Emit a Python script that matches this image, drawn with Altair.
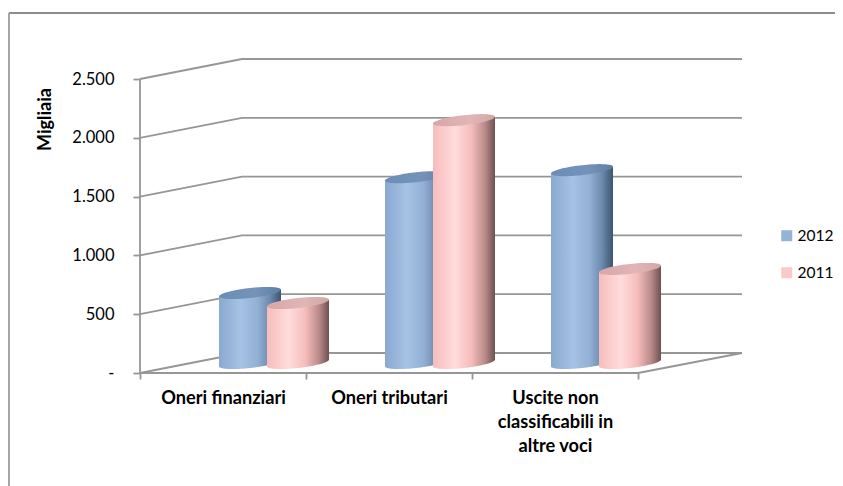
import math
import altair as alt
import pandas as pd

CATEGORIES = ["Oneri finanziari", "Oneri tributari", "Uscite non\nclassificabili in\naltre voci"]
SERIES = ["2012", "2011"]
VALUES_2012 = [595, 1580, 1640]
VALUES_2011 = [510, 2065, 800]
Y_TICKS = [0, 500, 1000, 1500, 2000, 2500]

FONT = "Lato"
LINE = "#969696"

# scale geometry: 166 px per category, 294 px per 2500
PX_X = 166.0
PX_Y = 294.0 / 2500.0
X0, Y0 = 140.0, 373.0
LEFT, RIGHT, TOP, BOTTOM = 9.0, 835.0, 13.0, 486.0
x_dom = [(LEFT - X0) / PX_X, (RIGHT - X0) / PX_X]
y_dom = [(BOTTOM - Y0) * -1 / PX_Y, (Y0 - TOP) / PX_Y]
DX = 102.0 / PX_X   # depth offset of the back wall
DY = 20.0 / PX_Y
END = 3 + DX + 2 / PX_X
n = len(CATEGORIES)

x_scale = alt.Scale(domain=x_dom, nice=False, zero=False)
y_scale = alt.Scale(domain=y_dom, nice=False, zero=False)

# wall and floor lines
grid = []
for v in Y_TICKS:
    pts = [(0, v), (DX, v + DY), (END, v + DY)]
    for i, (a, b) in enumerate(pts):
        grid.append({"g": f"w{v}", "i": i, "x": a, "y": b})
for i, (a, b) in enumerate([(0, 0), (n, 0), (END, DY)]):
    grid.append({"g": "floor", "i": i, "x": a, "y": b})
for i, (a, b) in enumerate([(0, 0), (0, Y_TICKS[-1])]):
    grid.append({"g": "axis", "i": i, "x": a, "y": b})
grid_df = pd.DataFrame(grid)

SHIFT = 24.0 / PX_X
HALF = 31.0 / PX_X
SK = 3.4 / PX_Y   # tilt of the ellipse
BH = 5.0 / PX_Y   # half height of the ellipse
STEPS = 40


def shapes(values, sign):
    body, cap = [], []
    for c, v in enumerate(values):
        cx = c + 0.5 + DX / 2 + sign * SHIFT
        base = DY / 2
        top = v + DY / 2
        for s in range(STEPS + 1):
            t = math.pi * s / STEPS
            co = math.cos(t)
            si = math.sin(t)
            x = cx + HALF * co
            tilt = SK * co
            body.append({"c": c, "x": x, "y": top + tilt, "y2": base + tilt - BH * si})
            cap.append({"c": c, "x": x, "y": top + tilt + BH * si, "y2": top + tilt - BH * si})
    return pd.DataFrame(body), pd.DataFrame(cap)


def grad(stops):
    return alt.Gradient(
        gradient="linear", x1=0, x2=1, y1=0, y2=0,
        stops=[alt.GradientStop(offset=o, color=col) for o, col in stops],
    )


BLUE_BODY = grad([(0, "#8aa9d0"), (0.35, "#a6c2e4"), (0.62, "#93b0d5"), (0.82, "#6d8bae"), (1, "#3c5570")])
BLUE_CAP = grad([(0, "#6a8db8"), (0.6, "#7593b8"), (1, "#5e7ea3")])
PINK_BODY = grad([(0, "#f7bcbc"), (0.35, "#ffdcdc"), (0.62, "#f6bcbc"), (0.84, "#b98a8a"), (1, "#6e5050")])
PINK_CAP = grad([(0, "#d9a6a8"), (0.6, "#e0b6b6"), (1, "#d0a8a2")])

ex = alt.X("x:Q", scale=x_scale, title=None)
ey = alt.Y("y:Q", scale=y_scale, title="Migliaia")

label_expr = (
    "datum.value==0.5?'Oneri finanziari':datum.value==1.5?'Oneri tributari':"
    "datum.value==2.5?['Uscite non','classificabili in','altre voci']:''"
)

lines = alt.Chart(grid_df).mark_line(color=LINE, strokeWidth=1.8).encode(
    x=alt.X("x:Q", scale=x_scale, title=None, axis=alt.Axis(
        values=[0, 0.5, 1, 1.5, 2, 2.5, 3], domain=False, grid=False,
        offset=-(BOTTOM - Y0), tickColor=LINE, tickWidth=1.8, tickSize=6,
        tickOpacity=alt.expr("datum.value==floor(datum.value)?1:0"),
        labelExpr=label_expr, labelFont=FONT, labelFontWeight="bold", labelFontSize=18.2,
        labelColor="#000000", labelOverlap=False, labelBound=False, labelFlush=False,
        labelPadding=10, labelLineHeight=24, labelBaseline="top",
    )),
    y=alt.Y("y:Q", scale=y_scale, title="Migliaia", axis=alt.Axis(
        values=Y_TICKS, domain=False, grid=False, offset=-(X0 - LEFT),
        tickColor=LINE, tickWidth=1.8, tickSize=7, labelFont=FONT, labelFontSize=16.5,
        labelColor="#000000", labelPadding=19, labelOverlap=False, labelBound=False,
        labelExpr="datum.value==0?'-':replace(format(datum.value,','),',','.')",
        titleFont=FONT, titleFontWeight="bold", titleFontSize=18, titleColor="#000000",
        titleX=54 - X0, titleY=119 - TOP, titleAngle=270, titleAlign="center",
    )),
    detail="g:N",
    order="i:Q",
)

frame_top = alt.Chart(pd.DataFrame({"a": [0]})).mark_rule(color="#8c8c8c", strokeWidth=1.8).encode(
    x=alt.value(0), x2=alt.value(RIGHT - LEFT), y=alt.value(0)
)
frame_left = alt.Chart(pd.DataFrame({"a": [0]})).mark_rule(color="#9c9c9c", strokeWidth=1.8).encode(
    y=alt.value(0), y2=alt.value(BOTTOM - TOP), x=alt.value(0)
)

layers = [frame_top, frame_left, lines]
for vals, sign, body_col, cap_col in [
    (VALUES_2012, -1, BLUE_BODY, BLUE_CAP),
    (VALUES_2011, 1, PINK_BODY, PINK_CAP),
]:
    body_df, cap_df = shapes(vals, sign)
    for df, col in [(body_df, body_col), (cap_df, cap_col)]:
        layers.append(
            alt.Chart(df).mark_area(color=col, orient="vertical", interpolate="linear").encode(
                x=ex, y=ey, y2="y2:Q", detail="c:N"
            )
        )

legend_df = pd.DataFrame({"s": SERIES, "x": [0, 0], "y": [0, 0]})
legend = alt.Chart(legend_df).mark_square(size=0, opacity=1).encode(
    x=ex, y=ey,
    color=alt.Color("s:N", sort=SERIES,
        scale=alt.Scale(domain=SERIES, range=["#95b3d7", "#ffc8c8"]),
        legend=alt.Legend(
            title=None, orient="none", legendX=779 - LEFT, legendY=228 - TOP,
            symbolType="square", symbolSize=121, symbolStrokeWidth=0, symbolOpacity=1,
            labelFont=FONT, labelFontSize=15.5, labelColor="#000000", labelOffset=3,
            rowPadding=20, padding=0,
        )),
)
layers.append(legend)

chart = alt.layer(*layers).properties(
    width=RIGHT - LEFT, height=BOTTOM - TOP,
    padding={"left": 1, "top": 5, "right": 0, "bottom": 0},
    autosize=alt.AutoSizeParams(type="none"),
    background="#ffffff",
).configure_view(stroke=None)

chart.save("out.html", embed_options={"renderer": "svg", "actions": False})
